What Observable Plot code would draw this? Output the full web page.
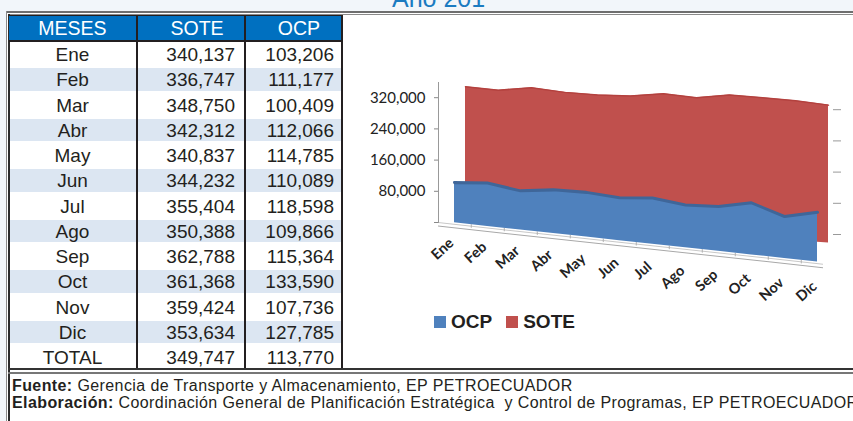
<!DOCTYPE html>
<html><head><meta charset="utf-8">
<script src="https://cdn.jsdelivr.net/npm/d3@7"></script>
<script src="https://cdn.jsdelivr.net/npm/@observablehq/plot@0.6"></script>
<style>
html,body{margin:0;padding:0;}
body{width:853px;height:421px;overflow:hidden;position:relative;background:#f2f6fa;font-family:"Liberation Sans",Arial,sans-serif;color:#231f20;}
.abs{position:absolute;}
#title{left:392px;top:-14px;font-size:25px;line-height:25px;color:#1b7bc1;white-space:nowrap;}
.cell{position:absolute;font-size:19px;line-height:25.25px;padding-top:1px;white-space:nowrap;}
.head{position:absolute;font-size:19.5px;line-height:26px;color:#fff;white-space:nowrap;}
#legend{left:434px;top:312px;font-weight:bold;font-size:19px;line-height:20px;white-space:nowrap;}
#legend span.sw{display:inline-block;width:12px;height:12px;vertical-align:0px;margin-right:5px;}
.foot{position:absolute;left:12px;font-size:16px;line-height:16px;letter-spacing:0.4px;white-space:nowrap;}
</style></head><body>
<div id="title" class="abs">Año 201</div>
<div id="frame"></div>
<div id="tbl"></div>
<div id="chart" class="abs" style="left:343px;top:14px"></div>
<div id="legend" class="abs"></div>
<div id="foot1" class="foot" style="top:377.5px"></div>
<div id="foot2" class="foot" style="top:394.5px"></div>
<script>
// ---- data ----
const headers = ["MESES", "SOTE", "OCP"];
const months = ["Ene","Feb","Mar","Abr","May","Jun","Jul","Ago","Sep","Oct","Nov","Dic"];
const sote = [340137,336747,348750,342312,340837,344232,355404,350388,362788,361368,359424,353634];
const ocp  = [103206,111177,100409,112066,114785,110089,118598,109866,115364,133590,107736,127785];
const totalLabel = "TOTAL";
const soteTotal = 349747;
const ocpTotal = 113770;
const yTicks = [0, 80000, 160000, 240000, 320000];
const seriesNames = ["OCP", "SOTE"];
const seriesColors = ["#4F81BD", "#C0504D"];
const sourceLabel = "Fuente:";
const sourceText = " Gerencia de Transporte y Almacenamiento, EP PETROECUADOR";
const elabLabel = "Elaboración:";
const elabText = " Coordinación General de Planificación Estratégica&nbsp; y Control de Programas, EP PETROECUADOR";

const fmt = d3.format(",");

// ---- frame lines ----
const fr = document.getElementById("frame");
function box(l,t,w,h,bg){const d=document.createElement("div");d.className="abs";d.style.cssText=`left:${l}px;top:${t}px;width:${w}px;height:${h}px;background:${bg}`;fr.appendChild(d);return d;}
box(6,11,900,420,"#fff");
box(6,11,900,1.5,"#6e6e6e");
box(8,14,900,1,"#8a8a8a");
box(6,11,1,420,"#8a8a8a");
box(8,14,1.6,420,"#2b2b2b");

// ---- table ----
const tbl = document.getElementById("tbl");
const rowTop = 41, rowH = 25.25;
function add(el){tbl.appendChild(el);return el;}
function div(css, cls, txt){const d=document.createElement("div");d.className=cls||"abs";d.style.cssText=css;if(txt!=null)d.textContent=txt;return add(d);}
div(`left:9px;top:15px;width:333px;height:26px;background:#0070C0`);
const rows = months.map((m,i)=>[m, sote[i], ocp[i]]).concat([[totalLabel, soteTotal, ocpTotal]]);
rows.forEach((r,i)=>{
  const top = rowTop + rowH*i;
  if (i % 2 === 1 && i < 12) div(`left:10px;top:${top+2}px;width:331px;height:${rowH-3}px;background:#DCE6F2`);
  div(`left:9px;top:${top}px;width:127px;text-align:center`, "cell", r[0]);
  div(`left:137px;top:${top}px;width:98px;text-align:right`, "cell", fmt(r[1]));
  div(`left:245px;top:${top}px;width:89px;text-align:right`, "cell", fmt(r[2]));
});
div(`left:9px;top:15px;width:127px;text-align:center`, "head", headers[0]);
div(`left:149px;top:15px;width:96px;text-align:center`, "head", headers[1]);
div(`left:255px;top:15px;width:88px;text-align:center`, "head", headers[2]);
div(`left:8px;top:14.5px;width:335px;height:1.5px;background:#231f20`);
div(`left:9px;top:40px;width:334px;height:2px;background:#231f20`);
[136,244,341].forEach(x=>div(`left:${x}px;top:15px;width:2px;height:353px;background:#231f20`));
div(`left:8px;top:368px;width:900px;height:2px;background:#333`);
div(`left:8px;top:372px;width:900px;height:1.5px;background:#777`);

// ---- chart ----
const data = months.map((m,i)=>({month:m, sote:sote[i], ocp:ocp[i]}));
const W = 510, H = 300;
const step = (477 - 108) / (months.length - 1);
const chart = Plot.plot({
  width: W, height: H,
  marginLeft: 95, marginRight: 30, marginTop: 68, marginBottom: 92,
  style: {background: "transparent", fontFamily: "Lato, sans-serif", color: "#222"},
  x: {type: "point", domain: months, range: [108, 477], padding: 0, label: null},
  y: {domain: [0, 360000], range: [208, 67.6], label: null},
  marks: [
    Plot.ruleY([0], {stroke: "#c8c8c8", strokeWidth: 1, dy: 1.5}),
    Plot.ruleY([0], {stroke: "#a8a8a8", strokeWidth: 1, dy: 5}),
    Plot.ruleX(months.slice(0, -1), {x: d => d, y1: 0, y2: -9000, stroke: "#b0b0b0", dx: step / 2}),
    Plot.areaY(data, {x: "month", y: "sote", fill: seriesColors[1], dx: 11, dy: -4}),
    Plot.lineY(data, {x: "month", y: "sote", stroke: "#b3413e", strokeWidth: 1.5, dx: 11, dy: -4}),
    Plot.areaY(data, {x: "month", y: "ocp", fill: seriesColors[0]}),
    Plot.lineY(data, {x: "month", y: "ocp", stroke: "#3f6699", strokeWidth: 3}),
    Plot.axisY({ticks: yTicks, tickFormat: d => d === 0 ? "" : fmt(d), tickSize: 4, tickPadding: 9, fontSize: 15, stroke: "#888", anchor: "left", label: null}),
    Plot.axisY({ticks: yTicks, tickFormat: () => "", tickSize: 8, anchor: "right", stroke: "#999", dx: 9, dy: 12, label: null}),
    Plot.frame({anchor: "left", stroke: "#999"}),
    Plot.axisX({tickRotate: -42, tickSize: 0, tickPadding: 16, fontSize: 14.5, fontWeight: "bold", label: null})
  ]
});
const svg = chart.tagName.toLowerCase() === "svg" ? chart : chart.querySelector("svg");
document.getElementById("chart").appendChild(chart);

const x0 = 108;
function skew(g, k){
  const t = g.getAttribute("transform") || "";
  g.setAttribute("transform", `matrix(1,${k},0,1,0,${(-k*x0).toFixed(2)}) ${t}`);
}
const areas = svg.querySelectorAll('g[aria-label="area"]');
const lines = svg.querySelectorAll('g[aria-label="line"]');
const rules = svg.querySelectorAll('g[aria-label="rule"]');
if (areas[0]) skew(areas[0], 0.065);
if (lines[0]) skew(lines[0], 0.065);
if (areas[1]) skew(areas[1], 0.108);
if (lines[1]) skew(lines[1], 0.108);
rules.forEach(g => skew(g, 0.108));
const kl = 0.12;
svg.querySelectorAll('g[aria-label="x-axis tick label"] text').forEach(t => {
  const tr = t.getAttribute("transform") || "";
  const m = /translate\(\s*([-\d.e]+)[ ,]+([-\d.e]+)\s*\)/.exec(tr);
  let x = m ? +m[1] : +(t.getAttribute("x") || 0);
  t.setAttribute("transform", `translate(-3,${(2 + kl*(x - x0)).toFixed(2)}) ${tr}`);
});

// ---- legend ----
const lg = document.getElementById("legend");
lg.innerHTML = seriesNames.map((n,i)=>`<span class="sw" style="background:${seriesColors[i]}"></span><span style="margin-right:14px">${n}</span>`).join("");

// ---- footer ----
document.getElementById("foot1").innerHTML = `<b>${sourceLabel}</b>${sourceText}`;
document.getElementById("foot2").innerHTML = `<b>${elabLabel}</b>${elabText}`;
</script>
</body></html>
